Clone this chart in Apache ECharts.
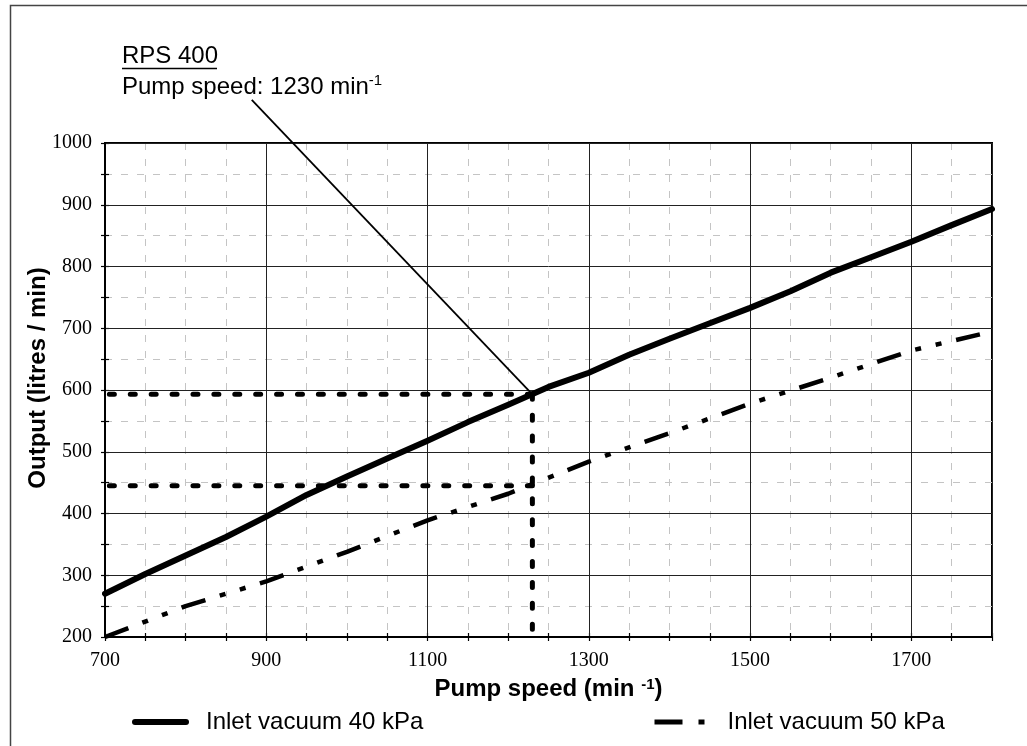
<!DOCTYPE html>
<html>
<head>
<meta charset="utf-8">
<script src="https://cdn.jsdelivr.net/npm/echarts@6/dist/echarts.min.js"></script>
<style>
html,body{margin:0;padding:0;background:#fff;}
#chart{width:1027px;height:746px;}
</style>
</head>
<body>
<div id="chart"></div>
<script>
// ---- data ----
const speeds40 = [700,750,800,850,900,950,1000,1050,1100,1150,1200,1250,1300,1350,1400,1450,1500,1550,1600,1650,1700,1750,1800];
const output40 = [270,302,332,362,395,430,460,489,518,548,576,605,628,657,683,708,733,760,790,815,840,867,893];
const speeds50 = [700,800,900,1000,1100,1200,1300,1400,1500,1600,1700,1785];
const output50 = [200,250,290,338,389,432,484,530,578,620,664,690];
const refSpeed = 1230;
const refOutputs = [593, 445];
const refLineStart = 684;      // dotted guides start just left of the y axis
const refVerticalEnd = 205;
const annotFrom = [882, 1070];  // end of the callout line near the label
const xTicks = {min: 700, max: 1800, major: 200, minor: 50};
const yTicks = {min: 200, max: 1000, major: 100, minor: 50};
const seriesNames = ['Inlet vacuum 40 kPa', 'Inlet vacuum 50 kPa'];

const zip = (a, b) => a.map((v, i) => [v, b[i]]);

const chart = echarts.init(document.getElementById('chart'), null, {renderer: 'canvas'});

const serif = 'Liberation Serif';
const sans = 'Liberation Sans';
const dotStyle = {color: '#000', width: 5, type: [5, 15.9], cap: 'round'};

const refSeries = [];
refOutputs.forEach(v => {
  refSeries.push({
    type: 'line', data: [[refSpeed, v], [refLineStart, v]], symbol: 'none', clip: false,
    lineStyle: dotStyle, silent: true, z: 6, xAxisIndex: 0, yAxisIndex: 0
  });
});
refSeries.push({
  type: 'line', data: [[refSpeed, refOutputs[0]], [refSpeed, refVerticalEnd]], symbol: 'none', clip: false,
  lineStyle: dotStyle, silent: true, z: 6, xAxisIndex: 0, yAxisIndex: 0
});
refSeries.push({
  type: 'line', data: [annotFrom, [refSpeed, refOutputs[0]]], symbol: 'none', clip: false,
  lineStyle: {color: '#000', width: 1.8}, silent: true, z: 6, xAxisIndex: 0, yAxisIndex: 0
});

const minorAxisX = (inside) => ({
  type: 'value', min: xTicks.min, max: xTicks.max, interval: xTicks.minor, position: 'bottom', z: 0,
  axisLine: {show: false}, axisLabel: {show: false},
  axisTick: {show: true, inside: inside, length: 4, lineStyle: {color: '#000', width: 1.2}},
  splitLine: {show: !inside, lineStyle: {color: '#c4c4c4', width: 1, type: [7, 9]}}
});
const minorAxisY = (inside) => ({
  type: 'value', min: yTicks.min, max: yTicks.max, interval: yTicks.minor, position: 'left', z: 0,
  axisLine: {show: false}, axisLabel: {show: false},
  axisTick: {show: true, inside: inside, length: 4, lineStyle: {color: '#000', width: 1.2}},
  splitLine: {show: !inside, lineStyle: {color: '#c4c4c4', width: 1, type: [7, 9]}}
});

const option = {
  backgroundColor: '#fff',
  animation: false,
  grid: {left: 105, right: 35, top: 143, bottom: 109, show: true, borderColor: '#000', borderWidth: 2, backgroundColor: 'transparent'},
  xAxis: [
    {
      type: 'value', min: xTicks.min, max: xTicks.max, interval: xTicks.major, position: 'bottom', z: 1,
      name: 'Pump speed (min {s|-1})', nameLocation: 'middle', nameGap: 40, nameMoveOverlap: false,
      nameTextStyle: {fontFamily: sans, fontSize: 24, fontWeight: 'bold', color: '#000',
        rich: {s: {fontFamily: sans, fontSize: 15, fontWeight: 'bold', color: '#000', verticalAlign: 'top', padding: [0,0,10,0]}}},
      axisLine: {show: true, lineStyle: {color: '#000', width: 2}},
      axisTick: {show: false},
      axisLabel: {show: true, showMaxLabel: false, fontFamily: serif, fontSize: 20, color: '#000', margin: 14,
        formatter: v => String(v)},
      splitLine: {show: true, lineStyle: {color: '#222', width: 1}}
    },
    minorAxisX(false),
    minorAxisX(true)
  ],
  yAxis: [
    {
      type: 'value', min: yTicks.min, max: yTicks.max, interval: yTicks.major, position: 'left', z: 1,
      name: 'Output (litres / min)', nameLocation: 'middle', nameGap: 55, nameMoveOverlap: false,
      nameTextStyle: {fontFamily: sans, fontSize: 24, fontWeight: 'bold', color: '#000', padding: [0, 0, 0, 24]},
      axisLine: {show: true, lineStyle: {color: '#000', width: 2}},
      axisTick: {show: false},
      axisLabel: {show: true, fontFamily: serif, fontSize: 20, color: '#000', margin: 13,
        formatter: v => String(v)},
      splitLine: {show: true, lineStyle: {color: '#222', width: 1}}
    },
    minorAxisY(false),
    minorAxisY(true)
  ],
  legend: [
    {
      data: [seriesNames[0]], left: 127, top: 705, itemWidth: 51, itemHeight: 24, orient: 'horizontal',
      itemStyle: {opacity: 0},
      lineStyle: {width: 6, cap: 'round'},
      textStyle: {fontFamily: sans, fontSize: 24, color: '#000', padding: [0, 0, 0, 15]},
      selectedMode: false
    },
    {
      data: [seriesNames[1]], left: 647, top: 705, itemWidth: 50, itemHeight: 24, orient: 'horizontal',
      itemStyle: {opacity: 0},
      lineStyle: {width: 5, type: [28, 16, 6, 20]},
      textStyle: {fontFamily: sans, fontSize: 24, color: '#000', padding: [0, 0, 0, 18]},
      selectedMode: false
    }
  ],
  graphic: [
    {type: 'rect', shape: {x: 10.5, y: 5.5, width: 1030, height: 800}, style: {fill: 'none', stroke: '#444', lineWidth: 1.5}, silent: true, z: 0},
    {type: 'text', left: 122, top: 44, style: {text: 'RPS 400', font: '24px "Liberation Sans"', fill: '#000'}, z: 10},
    {type: 'line', shape: {x1: 122, y1: 68.5, x2: 217, y2: 68.5}, style: {stroke: '#000', lineWidth: 1.6}, z: 10},
    {type: 'text', left: 122, top: 73, style: {
      text: '{a|Pump speed: 1230 min}{s|-1}',
      rich: {a: {fontFamily: sans, fontSize: 24, fill: '#000', lineHeight: 28},
             s: {fontFamily: sans, fontSize: 15, fill: '#000', verticalAlign: 'top', lineHeight: 28, padding: [0,0,8,0]}}
    }, z: 10}
  ],
  series: [
    {
      name: seriesNames[0], type: 'line', data: zip(speeds40, output40), symbol: 'none', smooth: false, z: 5,
      lineStyle: {color: '#000', width: 6, cap: 'round', join: 'round'},
      itemStyle: {color: '#000'}
    },
    {
      name: seriesNames[1], type: 'line', data: zip(speeds50, output50), symbol: 'none', smooth: false, z: 5,
      lineStyle: {color: '#000', width: 4.5, type: [25, 15, 6, 15, 6, 15]},
      itemStyle: {color: '#000'}
    }
  ].concat(refSeries)
};
chart.setOption(option);
</script>
</body>
</html>
